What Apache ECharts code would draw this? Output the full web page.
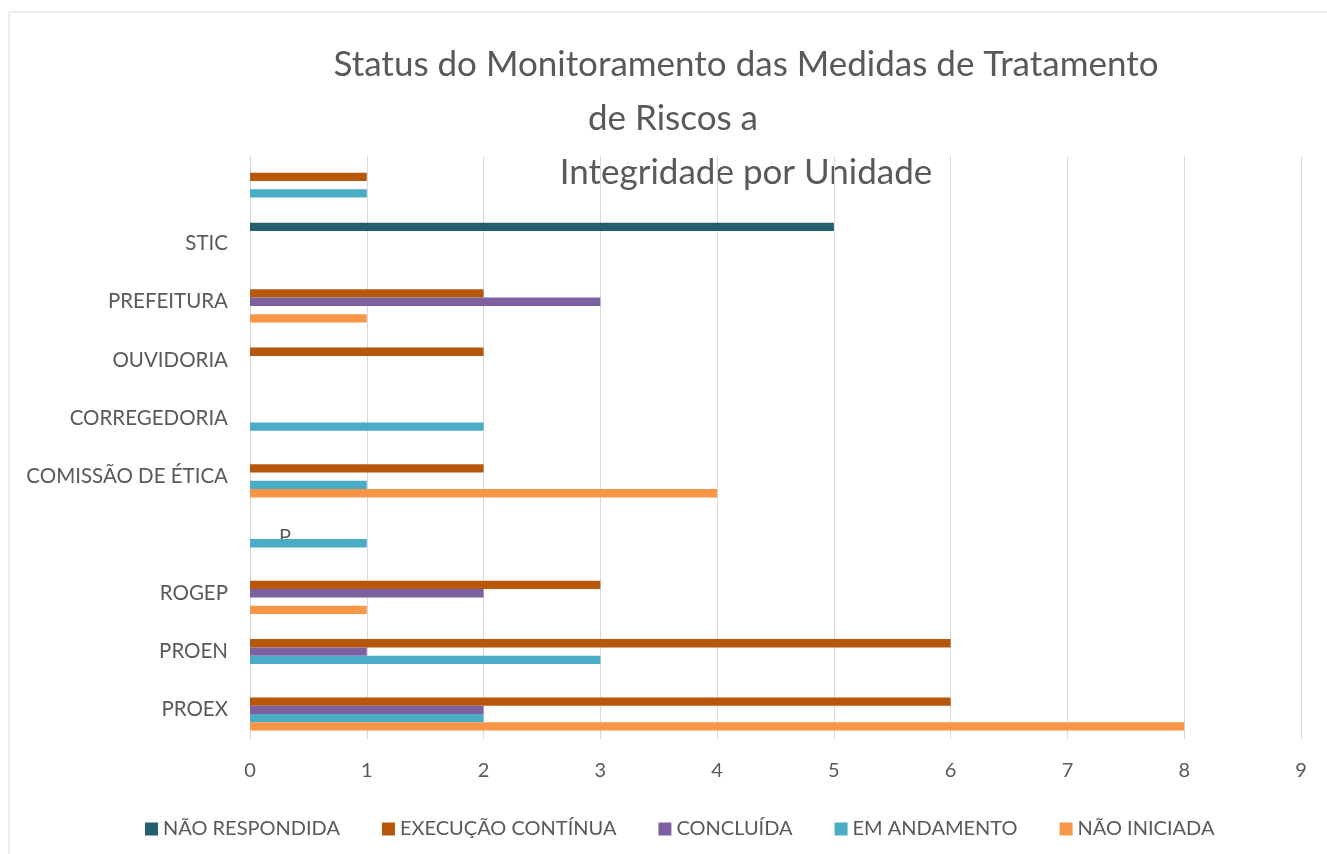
<!DOCTYPE html>
<html>
<head>
<meta charset="utf-8">
<script src="https://cdn.jsdelivr.net/npm/echarts@6/dist/echarts.min.js"></script>
<style>
  html, body { margin: 0; padding: 0; background: #fff; }
  #main { width: 1327px; height: 854px; }
</style>
</head>
<body>
<div id="main"></div>
<script>
// categorias de baixo para cima
var unidades = ['PROEX', 'PROEN', 'ROGEP', ' ', 'COMISSÃO DE ÉTICA', 'CORREGEDORIA', 'OUVIDORIA', 'PREFEITURA', 'STIC', '  '];
var eixoX = [0, 1, 2, 3, 4, 5, 6, 7, 8, 9];

var naoRespondida   = ['-', '-', '-', '-', '-', '-', '-', '-', 5, '-'];
var execContinua    = [6, 6, 3, '-', 2, '-', 2, 2, '-', 1];
var concluida       = [2, 1, 2, '-', '-', '-', '-', 3, '-', '-'];
var emAndamento     = [2, 3, '-', 1, 1, 2, '-', '-', '-', 1];
var naoIniciada     = [8, '-', 1, '-', 4, '-', '-', 1, '-', '-'];

var nomes = ['NÃO RESPONDIDA', 'EXECUÇÃO CONTÍNUA', 'CONCLUÍDA', 'EM ANDAMENTO', 'NÃO INICIADA'];
var cores = ['#255E6E', '#B7570B', '#7D60A0', '#4BACC6', '#F79646'];
var valores = [naoRespondida, execContinua, concluida, emAndamento, naoIniciada];

var fonte = 'Lato, "Open Sans", sans-serif';
var cinza = '#595959';

var chart = echarts.init(document.getElementById('main'));

var series = nomes.map(function (n, i) {
  return {
    name: n,
    type: 'bar',
    data: valores[i],
    barWidth: 8.3,
    barGap: '0%',
    itemStyle: { color: cores[i] }
  };
});

var option = {
  backgroundColor: '#ffffff',
  animation: false,
  textStyle: { fontFamily: fonte },
  graphic: [
    { type: 'rect', shape: { x: 9, y: 12, width: 1400, height: 900 }, style: { fill: 'none', stroke: '#D9D9D9', lineWidth: 1 } },
    { type: 'text', x: 746, y: 65, style: { text: 'Status do Monitoramento das Medidas de Tratamento', font: '35px ' + fonte, fill: cinza, textAlign: 'center', textVerticalAlign: 'middle' } },
    { type: 'text', x: 673, y: 119, style: { text: 'de Riscos a', font: '35px ' + fonte, fill: cinza, textAlign: 'center', textVerticalAlign: 'middle' } },
    { type: 'text', x: 746, y: 173, style: { text: 'Integridade por Unidade', font: '35px ' + fonte, fill: cinza, textAlign: 'center', textVerticalAlign: 'middle' } },
    { type: 'text', x: 285, y: 537, style: { text: 'P', font: '20px ' + fonte, fill: cinza, textAlign: 'center', textVerticalAlign: 'middle' } }
  ],
  legend: {
    data: nomes,
    left: 140,
    top: 814,
    itemWidth: 13,
    itemHeight: 13,
    itemGap: 42,
    icon: 'rect',
    textStyle: { color: cinza, fontSize: 20, fontFamily: fonte }
  },
  grid: { left: 250, right: 26, top: 156, bottom: 115, containLabel: false },
  xAxis: {
    type: 'value',
    min: 0,
    max: 9,
    interval: 1,
    axisLine: { show: false },
    axisTick: { show: false },
    splitLine: { lineStyle: { color: '#D9D9D9', width: 1 } },
    axisLabel: { color: cinza, fontSize: 20, margin: 22 }
  },
  yAxis: {
    type: 'category',
    data: unidades,
    axisLine: { show: true, lineStyle: { color: '#D9D9D9' } },
    axisTick: { show: false },
    axisLabel: { color: cinza, fontSize: 20.5, margin: 22 }
  },
  series: series
};

chart.setOption(option);
</script>
</body>
</html>
